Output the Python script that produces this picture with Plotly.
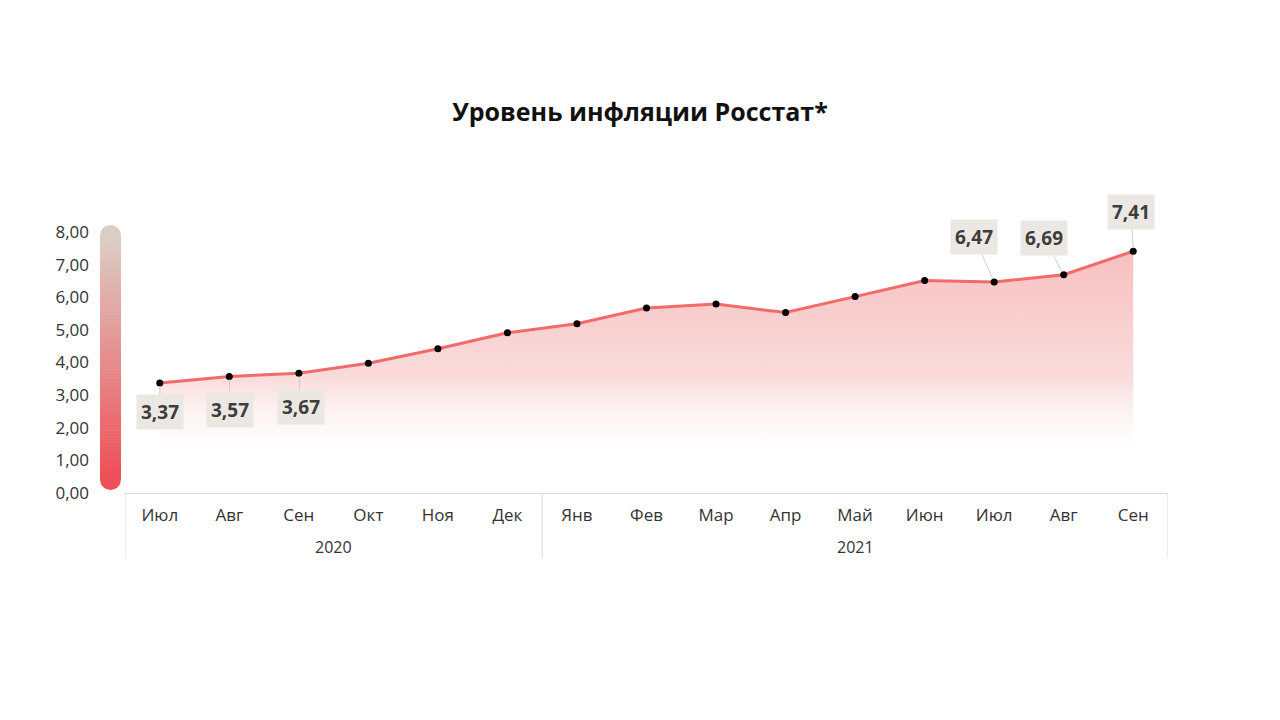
import plotly.graph_objects as go

# --- data ---
years = ['2020'] * 6 + ['2021'] * 9
months = ['Июл', 'Авг', 'Сен', 'Окт', 'Ноя', 'Дек',
          'Янв', 'Фев', 'Мар', 'Апр', 'Май', 'Июн', 'Июл', 'Авг', 'Сен']
inflation = [3.37, 3.57, 3.67, 3.98, 4.42, 4.91,
             5.19, 5.67, 5.79, 5.53, 6.02, 6.51, 6.47, 6.69, 7.41]
y_ticks = [0, 1, 2, 3, 4, 5, 6, 7, 8]

# which points get a value label and where the label box sits (pixel offsets)
label_idx = [0, 1, 2, 12, 13, 14]
label_off = {0: (0, 29), 1: (1, 33), 2: (2, 34), 12: (-20, -45), 13: (-20, -37), 14: (-2, -39)}

FONT = 'Open Sans'
LINE_RED = '#f26b6b'
GRID = '#d9d9d9'

x_pos = list(range(len(months)))
plot_h = 261  # px, plot area height
plot_w = 1043

fig = go.Figure()

fig.add_trace(go.Scatter(
    x=x_pos, y=inflation,
    mode='lines+markers',
    line=dict(color=LINE_RED, width=3),
    marker=dict(color='black', size=7),
    fill='tozeroy',
    fillgradient=dict(type='vertical', start=0.9, stop=7.41,
                      colorscale=[[0, 'rgba(255,255,255,0)'],
                                  [0.4, 'rgba(250,220,220,1)'],
                                  [1, 'rgba(248,192,192,1)']]),
    cliponaxis=False,
    text=[f"{m} {y}" for m, y in zip(months, years)],
    hoverinfo='text+y',
    showlegend=False,
))

# value labels
for i in label_idx:
    ax, ay = label_off[i]
    fig.add_annotation(
        x=i, y=inflation[i], text="<b>" + f"{inflation[i]:.2f}".replace('.', ',') + "</b>",
        showarrow=True, arrowhead=0, arrowwidth=0.8, arrowcolor='#c8c4c0',
        ax=ax, ay=ay, standoff=3,
        bgcolor='#ebe7e2', borderpad=4,
        font=dict(family=FONT, size=19, color='#3d3d3d'),
    )

# year group labels and dividers under the month axis
groups = []
for i, y in enumerate(years):
    if not groups or groups[-1][0] != y:
        groups.append([y, i, i])
    else:
        groups[-1][2] = i
shapes = []
edges = sorted({g[1] - 0.5 for g in groups} | {groups[-1][2] + 0.5})
for e in edges:
    shapes.append(dict(type='line', xref='x', yref='paper', x0=e, x1=e, y0=0, y1=-65 / plot_h,
                       line=dict(color=GRID, width=1)))
for y, a, b in groups:
    fig.add_annotation(x=(a + b) / 2, y=-54 / plot_h, xref='x', yref='paper', text=y,
                       showarrow=False, yanchor='middle',
                       font=dict(family=FONT, size=16, color='#333333'))

# gradient bar beside the y axis (stack of thin slices + round caps), paper coords
top_c = (220, 205, 196)
bot_c = (239, 79, 88)
bar_x0 = -25 / plot_w
bar_x1 = -4 / plot_w
r = 10.5 / plot_h
bar_top = (261 + 7) / plot_h - r
bar_bot = 3 / plot_h + r
n = 80
for k in range(n):
    t = k / (n - 1)
    c = tuple(int(round(bot_c[j] + (top_c[j] - bot_c[j]) * t)) for j in range(3))
    y0 = bar_bot + (bar_top - bar_bot) * k / n
    y1 = bar_bot + (bar_top - bar_bot) * (k + 1) / n + 0.002
    shapes.append(dict(type='rect', xref='paper', yref='paper', x0=bar_x0, x1=bar_x1,
                       y0=y0, y1=y1, fillcolor=f'rgb{c}', line=dict(width=0), layer='below'))
for yc, c in [(bar_top, top_c), (bar_bot, bot_c)]:
    shapes.append(dict(type='circle', xref='paper', yref='paper', x0=bar_x0, x1=bar_x1,
                       y0=yc - r, y1=yc + r, fillcolor=f'rgb{c}',
                       line=dict(width=0), layer='below'))

fig.update_layout(
    width=1280, height=720,
    paper_bgcolor='white', plot_bgcolor='white',
    margin=dict(l=117, r=120, t=224, b=235, autoexpand=False),
    separators=', ',
    title=dict(text='<b>Уровень инфляции Росстат*</b>', x=632 / 1280, xanchor='center',
               y=1 - 104 / 720, yanchor='middle',
               font=dict(family=FONT, size=25, color='#111111')),
    font=dict(family=FONT, color='#333333'),
    shapes=shapes,
    xaxis=dict(
        range=[-0.5, len(months) - 0.5], tickvals=x_pos, ticktext=months,
        showgrid=False, zeroline=False,
        showline=True, linecolor=GRID, linewidth=1,
        ticks='', ticklabelstandoff=7,
        tickfont=dict(family=FONT, size=17, color='#333333'),
        fixedrange=True,
    ),
    yaxis=dict(
        range=[0, 8], tickvals=y_ticks, tickformat='.2f',
        showgrid=False, zeroline=False, showline=False,
        ticklabelstandoff=35,
        tickfont=dict(family=FONT, size=17, color='#333333'),
        fixedrange=True,
    ),
)

fig.write_html("out.html")
